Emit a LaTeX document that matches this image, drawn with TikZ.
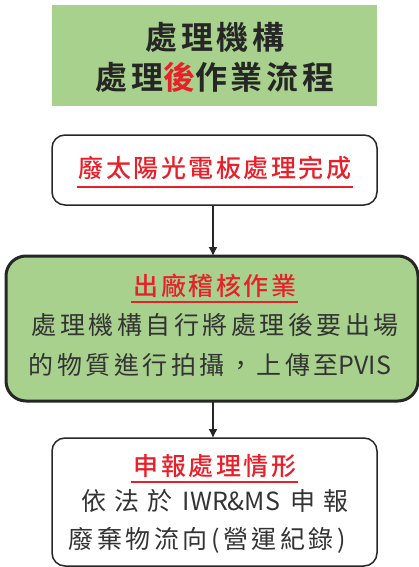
\documentclass[tikz,border=0pt]{standalone}
\usepackage{fontspec}
\setmainfont{Noto Sans CJK TC}
\newfontfamily\cjkb[LetterSpace=12]{Noto Sans CJK TC Bold}
\newfontfamily\cjkr[LetterSpace=10]{Noto Sans CJK TC Medium}
\newfontfamily\cjkn[LetterSpace=14]{Noto Sans CJK TC}
\newfontfamily\cjkplain{Noto Sans CJK TC}
\definecolor{tgreen}{HTML}{A8D18D}
\definecolor{tred}{HTML}{E8202A}
\definecolor{tdark}{HTML}{262626}
\definecolor{ttext}{HTML}{333333}
\usetikzlibrary{arrows.meta}
\tikzset{
  box/.style={draw=tdark, line width=1.5pt, rounded corners=13pt},
  bigbox/.style={draw=tdark, line width=3pt, rounded corners=20pt, fill=tgreen},
  redtitle/.style={text=tred, font=\cjkr\fontsize{25}{28}\selectfont, inner sep=0pt},
  body/.style={text=ttext, font=\cjkn\fontsize{25}{28}\selectfont, inner sep=0pt},
  bodyplain/.style={text=ttext, font=\cjkplain\fontsize{25}{28}\selectfont, inner sep=0pt},
  arr/.style={draw=tdark, line width=1.2pt, -{Latex[length=9pt,width=9pt]}}
}
\begin{document}
\begin{tikzpicture}[x=1pt,y=-1pt]
\useasboundingbox (0,0) rectangle (419,567);
% title
\fill[tgreen] (52,5) rectangle (377,106);
\node[font=\cjkb\fontsize{32}{34}\selectfont, text=tdark, inner sep=0pt] (t1) at (215,37) {處理機構};
\node[font=\cjkb\fontsize{32}{34}\selectfont, text=tdark, inner sep=0pt] (t2) at (215,77) {處理{\color{tred}後}作業流程};
% box 2
\draw[box] (52,135) rectangle (377,205);
\coordinate (b2s) at (213,205);
\node[redtitle] (b2t) at (215,168) {廢太陽光電板處理完成};
\draw[tred, line width=1.3pt] (77,187) -- (353,187);
% box 3
\draw[bigbox] (6,256) rectangle (418,401);
\coordinate (b3n) at (213,256);
\coordinate (b3s) at (213,401);
\node[redtitle] (b3t) at (215,286) {出廠稽核作業};
\draw[tred, line width=1.3pt] (131,302) -- (298,302);
\node[body] (b3a) at (215,325) {處理機構自行將處理後要出場};
\node[body] (b3b) at (210,365) {的物質進行拍攝，上傳至{\addfontfeature{LetterSpace=0}PVIS}};
% box 4
\draw[box] (52,438) rectangle (377,566);
\coordinate (b4n) at (213,438);
\node[redtitle] (b4t) at (215,466) {申報處理情形};
\draw[tred, line width=1.3pt] (131,482) -- (298,482);
\node[bodyplain] (b4a) at (215,501) {依\hspace{8pt}法\hspace{8pt}於\hspace{10pt}IWR\&MS\hspace{10pt}申\hspace{8pt}報};
\node[body] (b4b) at (207,540) {廢棄物流向(營運紀錄)};
% arrows
\draw[arr] (b2s) -- (b3n);
\draw[arr] (b3s) -- (b4n);
\end{tikzpicture}
\end{document}
